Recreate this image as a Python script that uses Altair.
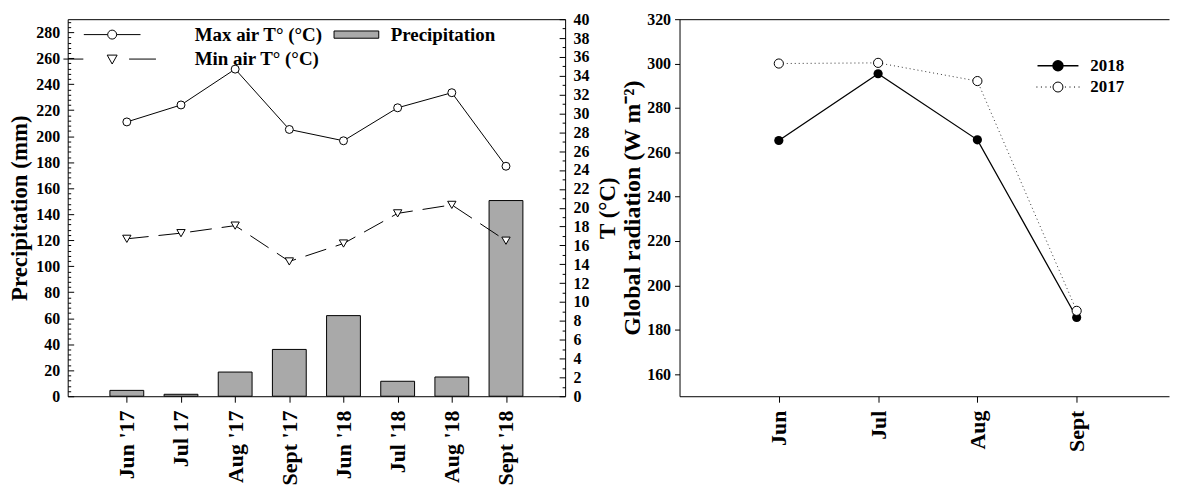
import json
import altair as alt
import pandas as pd

# ---------------- data ----------------
months = ["Jun '17", "Jul 17", "Aug '17", "Sept '17", "Jun '18", "Jul '18", "Aug '18", "Sept '18"]
precip_mm = [4.5, 1.5, 18.6, 36.0, 62.0, 11.5, 14.8, 150.5]
max_air_t = [29.1, 30.9, 34.7, 28.3, 27.1, 30.6, 32.2, 24.4]
min_air_t = [16.7, 17.3, 18.1, 14.3, 16.2, 19.4, 20.3, 16.5]

rad_months = ["Jun", "Jul", "Aug", "Sept"]
rad_2018 = [265.3, 295.4, 265.6, 185.5]
rad_2017 = [300.0, 300.3, 292.1, 188.5]

precip_ticks = list(range(0, 289, 4))
temp_ticks = list(range(0, 41))
rad_ticks = list(range(160, 321, 20))

FONT = "Liberation Serif"

left_df = pd.DataFrame({
    "idx": list(range(1, len(months) + 1)),
    "month": months,
    "precip": precip_mm,
    "tmax": max_air_t,
    "tmin": min_air_t,
    "p_lab": "Precipitation",
    "max_lab": "Max air T° (°C)",
    "min_lab": "Min air T° (°C)",
})

df18 = pd.DataFrame({"idx": [1, 2, 3, 4], "rad": rad_2018, "yr": "2018"})
df17 = pd.DataFrame({"idx": [1, 2, 3, 4], "rad": rad_2017, "yr": "2017"})

# ---------------- legend symbols (unit = 7 px) ----------------
P_MAX = ("M-4.07,0H-0.643M0.643,0H4.07"
         "M-0.643,0A0.643,0.643 0 1,0 0.643,0A0.643,0.643 0 1,0 -0.643,0Z")
P_MIN = ("M-7,0H-4.14M2.43,0H6.29"
         "M-0.714,-0.57L0.714,-0.57L0,0.71Z")
P_BAR = "M-3.21,-0.52H3.21V0.52H-3.21Z"
P_18 = ("M-2.94,0H-0.714M0.714,0H2.94"
        "M-0.714,0A0.714,0.714 0 1,0 0.714,0A0.714,0.714 0 1,0 -0.714,0Z")
dots = "".join(f"M{v:.2f},0h0.15M{-v - 0.15:.2f},0h0.15" for v in [1.0, 1.65, 2.3, 2.95])
P_17 = dots + "M-0.714,0A0.714,0.714 0 1,0 0.714,0A0.714,0.714 0 1,0 -0.714,0Z"

LEG = dict(orient="none", title=None, padding=0, labelFont=FONT, labelFontSize=19,
           labelFontWeight="bold", labelColor="black", labelLimit=0,
           symbolSize=196, symbolStrokeWidth=1)

# ---------------- left panel ----------------
xl = alt.X("idx:Q",
           scale=alt.Scale(domain=[0, 9], nice=False, zero=False),
           axis=alt.Axis(values=list(range(1, 9)),
                         labelExpr=json.dumps(months) + "[datum.value - 1]",
                         labelAngle=270, labelAlign="right", labelBaseline="middle",
                         labelPadding=8, labelFontSize=22, tickSize=6,
                         domain=False, grid=False, title=None))

yp = alt.Y("precip:Q",
           scale=alt.Scale(domain=[0, 290], nice=False),
           axis=alt.Axis(orient="left", values=precip_ticks,
                         labelExpr="datum.value % 20 === 0 ? datum.label : ''",
                         offset=-6, tickSize=6,
                         tickDash={"condition": {"test": "datum.value % 20 !== 0", "value": [0, 3, 3]},
                                   "value": []},
                         domain=False, grid=False, labelPadding=8,
                         title="Precipitation (mm)", titlePadding=4))


def y_t(field):
    return alt.Y(field + ":Q",
                 scale=alt.Scale(domain=[0, 40], nice=False),
                 axis=alt.Axis(orient="right", values=temp_ticks,
                               labelExpr="datum.value % 2 === 0 ? datum.label : ''",
                               offset=-6, tickSize=6,
                               tickDash={"condition": {"test": "datum.value % 2 !== 0", "value": [0, 3, 3]},
                                         "value": []},
                               domain=False, grid=False, labelPadding=8,
                               title="T (°C)", titleAngle=270, titleBaseline="top",
                               titlePadding=8))


bars = alt.Chart(left_df).mark_bar(size=34, stroke="black", strokeWidth=1).encode(
    x=xl, y=yp,
    fill=alt.Fill("p_lab:N", scale=alt.Scale(range=["#a9a9a9"]),
                  legend=alt.Legend(legendX=280.7, legendY=6, symbolType=P_BAR,
                                    symbolStrokeColor="black", labelOffset=25, **LEG)))

max_line = alt.Chart(left_df).mark_line(color="black", strokeWidth=1).encode(x=xl, y=y_t("tmax"))
max_pts = alt.Chart(left_df).mark_point(shape="circle", size=64, filled=True, fill="white",
                                        strokeWidth=1, opacity=1).encode(
    x=xl, y=y_t("tmax"),
    stroke=alt.Stroke("max_lab:N", scale=alt.Scale(range=["black"]),
                      legend=alt.Legend(legendX=35.2, legendY=6, symbolType=P_MAX,
                                        symbolFillColor="white", labelOffset=73.5, **LEG)))
min_line = alt.Chart(left_df).mark_line(color="black", strokeWidth=1, strokeDash=[22, 10]).encode(
    x=xl, y=y_t("tmin"))
min_pts = alt.Chart(left_df).mark_point(shape="triangle-down", size=70, filled=True, fill="white",
                                        strokeWidth=1, opacity=1).encode(
    x=xl, y=y_t("tmin"),
    stroke=alt.Stroke("min_lab:N", scale=alt.Scale(range=["black"]),
                      legend=alt.Legend(legendX=35.2, legendY=30.6, symbolType=P_MIN,
                                        symbolFillColor="white", labelOffset=73.5, **LEG)))

t_group = alt.layer(max_line, max_pts, min_line, min_pts).resolve_scale(
    stroke="independent").resolve_legend(stroke="independent")

left = alt.layer(
    alt.layer(bars),
    t_group,
).resolve_scale(y="independent").properties(width=500, height=379)

# ---------------- right panel ----------------
xr_scale = alt.Scale(domain=[0, 4.93], nice=False, zero=False)
xr = alt.X("idx:Q", scale=xr_scale,
           axis=alt.Axis(values=[1, 2, 3, 4],
                         labelExpr=json.dumps(rad_months) + "[datum.value - 1]",
                         labelAngle=270, labelAlign="right", labelBaseline="middle",
                         labelPadding=8, labelFontSize=22, tickSize=6,
                         domain=True, grid=False, title=None))
xr_top = alt.X("idx:Q", scale=xr_scale,
               axis=alt.Axis(orient="top", labels=False, ticks=False, domain=True,
                             grid=False, title=None))
yr = alt.Y("rad:Q", scale=alt.Scale(domain=[150, 320], nice=False, zero=False),
           axis=alt.Axis(values=rad_ticks, tickSize=5, labelPadding=4, domain=True,
                         grid=False, title="Global radiation (W m⁻²)", titleFontSize=24,
                         titlePadding=2))

l18 = alt.Chart(df18).mark_line(color="black", strokeWidth=1.3).encode(x=xr, y=yr)
p18 = alt.Chart(df18).mark_point(shape="circle", size=85, filled=True, opacity=1).encode(
    x=xr, y=yr,
    fill=alt.Fill("yr:N", scale=alt.Scale(range=["black"]),
                  legend=alt.Legend(legendX=371.9, legendY=38.3, symbolType=P_18,
                                    symbolStrokeColor="black",
                                    **{**LEG, "labelFontSize": 17, "symbolStrokeWidth": 1.5},
                                    labelOffset=24)))
l17 = alt.Chart(df17).mark_line(color="#333333", strokeWidth=1, strokeDash=[1, 3]).encode(x=xr_top, y=yr)
p17 = alt.Chart(df17).mark_point(shape="circle", size=85, filled=True, fill="white",
                                 strokeWidth=1, opacity=1).encode(
    x=xr_top, y=yr,
    stroke=alt.Stroke("yr:N", scale=alt.Scale(range=["black"]),
                      legend=alt.Legend(legendX=371.9, legendY=59.7, symbolType=P_17,
                                        symbolFillColor="white",
                                        **{**LEG, "labelFontSize": 17},
                                        labelOffset=24)))

right = alt.layer(
    alt.layer(l18, p18),
    alt.layer(l17, p17),
).resolve_scale(x="independent").properties(
    width=492, height=379, view=alt.ViewBackground(stroke="transparent"))

chart = alt.hconcat(left, right, spacing=115, bounds="flush").resolve_scale(
    fill="independent", stroke="independent", shape="independent"
).resolve_legend(
    fill="independent", stroke="independent", shape="independent"
).properties(
    padding={"left": 0, "top": 1, "right": 0, "bottom": 0}
).configure_view(stroke="black", strokeWidth=1).configure_axis(
    labelFont=FONT, labelFontWeight="bold", labelFontSize=16, labelColor="black",
    titleFont=FONT, titleFontWeight="bold", titleFontSize=23, titleColor="black",
    tickColor="black", domainColor="black", tickWidth=1, domainWidth=1
).configure_legend(symbolOpacity=1)

chart.save("out.html", embed_options={"renderer": "svg", "actions": False})
